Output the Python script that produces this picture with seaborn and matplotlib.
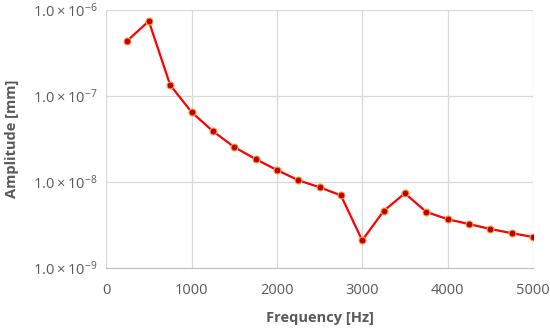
import numpy as np
import pandas as pd
import seaborn as sns
import matplotlib.pyplot as plt
from matplotlib.ticker import FixedLocator, FuncFormatter

# Datos
frequency = [250, 500, 750, 1000, 1250, 1500, 1750, 2000, 2250, 2500,
             2750, 3000, 3250, 3500, 3750, 4000, 4250, 4500, 4750, 5000]
amplitude = [4.4e-7, 7.4e-7, 1.34e-7, 6.5e-8, 3.9e-8, 2.55e-8, 1.85e-8, 1.38e-8,
             1.05e-8, 8.7e-9, 7.0e-9, 2.1e-9, 4.6e-9, 7.4e-9, 4.5e-9, 3.7e-9,
             3.25e-9, 2.85e-9, 2.55e-9, 2.3e-9]
x_ticks = [0, 1000, 2000, 3000, 4000, 5000]
y_ticks = [1e-9, 1e-8, 1e-7, 1e-6]

df = pd.DataFrame({"freq": frequency, "amp": amplitude})

sns.set_style("white")
plt.rcParams['font.family'] = ['Open Sans', 'DejaVu Sans']
gray = "#595959"

fig = plt.figure(figsize=(5.5, 3.29), dpi=100)
ax = fig.add_axes([0.193, 0.185, 0.776, 0.785])

sns.lineplot(df, x="freq", y="amp", ax=ax, color="#ff0000", linewidth=1.6,
             marker="o", markersize=5, markerfacecolor="#c00000",
             markeredgecolor="#f4a040", markeredgewidth=0.8, zorder=3)

ax.set_yscale("log")
ax.set_xlim(0, 5000)
ax.set_ylim(1e-9, 1e-6)
ax.xaxis.set_major_locator(FixedLocator(x_ticks))
ax.yaxis.set_major_locator(FixedLocator(y_ticks))
ax.yaxis.set_minor_locator(FixedLocator([]))
ax.yaxis.set_major_formatter(FuncFormatter(
    lambda v, p: r"$\mathregular{1.0\times10^{%d}}$" % round(np.log10(v))))

ax.grid(True, color="#d9d9d9", linewidth=0.9)
for s in ["top", "right", "left"]:
    ax.spines[s].set_visible(False)
ax.spines["bottom"].set_color("#bfbfbf")
ax.tick_params(axis="both", length=0, colors=gray, labelsize=10.5)
ax.tick_params(axis="x", pad=11)
ax.tick_params(axis="y", pad=6)

ax.set_xlabel("Frequency [Hz]", color=gray, fontsize=10.5, fontweight="bold", labelpad=9)
ax.set_ylabel("Amplitude [mm]", color=gray, fontsize=10.5, fontweight="bold", labelpad=10)

fig.savefig("out.png", dpi=100)
